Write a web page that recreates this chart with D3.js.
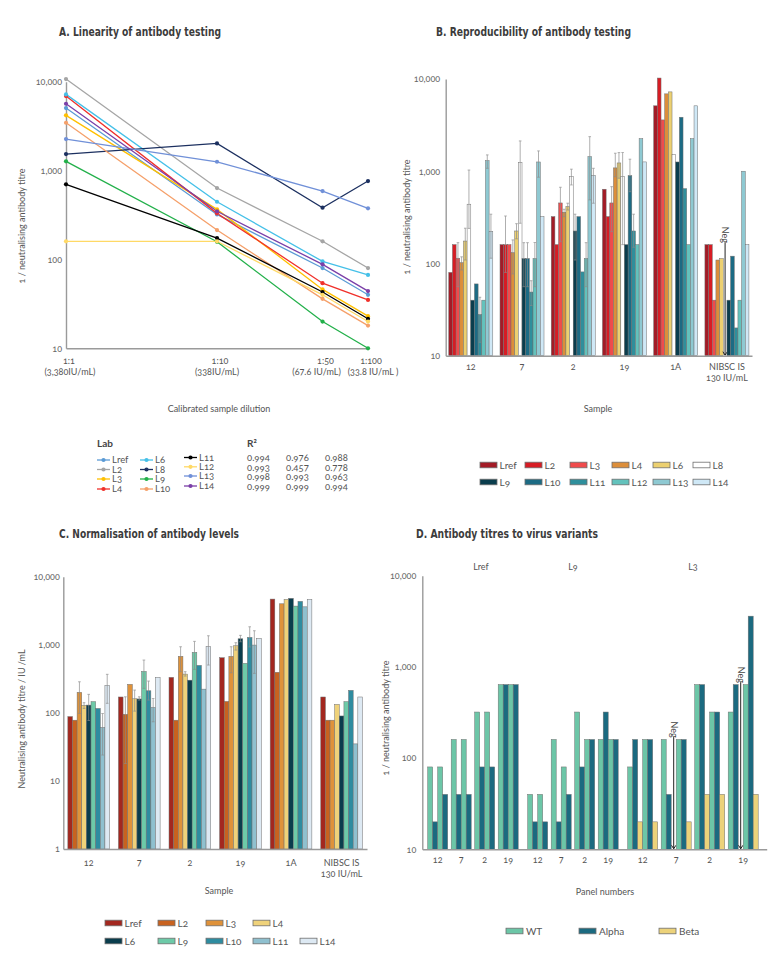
<!DOCTYPE html>
<html><head><meta charset="utf-8">
<script src="https://cdn.jsdelivr.net/npm/d3@7"></script>
<style>
body{margin:0;background:#fff;}
svg{font-family:Lato,"Open Sans",sans-serif;font-variant-numeric:oldstyle-nums;}
.title{font-family:"Liberation Sans Narrow","DejaVu Sans Condensed",sans-serif;font-weight:bold;font-size:12.5px;fill:#3c3c3c;font-variant-numeric:normal;}
.tick text{fill:#666;font-size:9px;}
.lbl{fill:#555;font-size:9px;}
.leg{fill:#555;font-size:10px;}
.legA{fill:#555;font-size:9.5px;}
</style></head><body>
<svg id="c" width="783" height="957"></svg>
<script>
// ---------- Panel A data ----------
const labsA = ["Lref","L2","L3","L4","L6","L8","L9","L10","L11","L12","L13","L14"];
const colorsA = ["#5b9bd5","#a5a5a5","#ffc000","#f0302a","#45c0e8","#1c3060","#22b04a","#f5a06a","#000000","#ffd966","#7090d8","#7b3fa8"];
const dilutions = [1,10,50,100];
const dilutionRatio = ["1:1","1:10","1:50","1:100"];
const dilutionIU = ["(3,380IU/mL)","(338IU/mL)","(67.6 IU/mL)","(33.8 IU/mL )"];
const A_Lref = [5050, 321, 80, 40];
const A_L2   = [10700, 636, 160, 80];
const A_L3   = [4180, 366, 46, 23];
const A_L4   = [6890, 330, 54, 35];
const A_L6   = [7200, 446, 95, 67];
const A_L8   = [1535, 2020, 382, 762];
const A_L9   = [1270, 158, 20, 10];
const A_L10  = [3450, 214, 36, 18];
const A_L11  = [700, 174, 43, 21.5];
const A_L12  = [160, 160, 40, 20];
const A_L13  = [2260, 1256, 588, 376];
const A_L14  = [5650, 348, 88, 44];
const seriesA = [A_Lref,A_L2,A_L3,A_L4,A_L6,A_L8,A_L9,A_L10,A_L11,A_L12,A_L13,A_L14];
const rSquared = [0.994,0.993,0.998,0.999,0.976,0.457,0.993,0.999,0.988,0.778,0.963,0.994];
const logTicks = [10,100,1000,10000];

// ---------- Panel B data ----------
const samples = ["12","7","2","19","1A","NIBSC"];
const sampleLabels = [["12"],["7"],["2"],["19"],["1A"],["NIBSC IS","130 IU/mL"]];
const labsB = ["Lref","L2","L3","L4","L6","L8","L9","L10","L11","L12","L13","L14"];
const colorsB = ["#a31b26","#d71c24","#f04b4c","#dc8e3a","#ecd070","#ffffff","#0a3d4d","#1c6b84","#2f8f9c","#63c2bc","#8ec9d2","#cfe8f6"];
const B_Lref = [80, 160, 322, 638, 5120, 160];
const B_L2   = [160, 160, 160, 322, 10240, 160];
const B_L3   = [114, 160, 453, 453, 3600, 40];
const B_L4   = [102, 131, 359, 1087, 6900, 109];
const B_L6   = [175, 225, 414, 1230, 7250, 113];
const B_L8   = [439, 1250, 881, 873, 1510, "Neg"];
const B_L9   = [40, 113, 225, 160, 1260, 40];
const B_L10  = [60, 113, 322, 895, 3850, 120];
const B_L11  = [28, 49, 81, 225, 647, 20];
const B_L12  = [40, 113, 113, 160, 160, 40];
const B_L13  = [1303, 1260, 1440, 2255, 2255, 1000];
const B_L14  = [223, 322, 903, 1262, 5120, 160];
const seriesB = [B_Lref,B_L2,B_L3,B_L4,B_L6,B_L8,B_L9,B_L10,B_L11,B_L12,B_L13,B_L14];
const BErr_L2  = [null,[80,327],null,null,null,null];
const BErr_L3  = [[56,168],null,[172,670],[221,680],null,null];
const BErr_L4  = [[85,118],[77,180],[322,387],[873,1567],null,null];
const BErr_L6  = [[109,241],[185,270],[380,450],[840,1592],null,null];
const BErr_L8  = [[240,1030],[273,2130],[710,1052],[160,1600],null,null];
const BErr_L9  = [null,[56,168],[109,342],null,null,null];
const BErr_L10 = [null,[56,168],null,[600,1350],null,null];
const BErr_L11 = [[14,43],[35,65],null,[150,342],null,null];
const BErr_L12 = [null,[56,169],[56,168],null,null,null];
const BErr_L13 = [[1076,1503],[861,1660],[489,2370],null,null,null];
const BErr_L14 = [[114,342],null,[450,1076],null,null,null];
const errB = [null,BErr_L2,BErr_L3,BErr_L4,BErr_L6,BErr_L8,BErr_L9,BErr_L10,BErr_L11,BErr_L12,BErr_L13,BErr_L14];
const negTopB = [170];

// ---------- Panel C data ----------
const labsC = ["Lref","L2","L3","L4","L6","L9","L10","L11","L14"];
const colorsC = ["#a3271f","#c8621f","#df923a","#efd27a","#0a3d4d","#6dcaa8","#2e8ca0","#8fc0cf","#dde9f3"];
const C_Lref = [88, 171, 332, 645, 4690, 171];
const C_L2   = [78, 95, 78, 147, 394, 78];
const C_L3   = [200, 262, 676, 676, 4000, 78];
const C_L4   = [129, 161, 371, 967, 4630, 133];
const C_L6   = [130, 160, 302, 1225, 4800, 90];
const C_L9   = [146, 406, 773, 533, 3700, 146];
const C_L10  = [116, 211, 498, 1283, 4340, 214];
const C_L11  = [61, 120, 223, 990, 3610, 35];
const C_L14  = [253, 332, 947, 1240, 4630, 171];
const seriesC = [C_Lref,C_L2,C_L3,C_L4,C_L6,C_L9,C_L10,C_L11,C_L14];
const CErr_L2  = [null,[18,172],null,null,null,null];
const CErr_L3  = [[98,286],null,[402,935],[388,935],null,null];
const CErr_L4  = [[116,141],[106,216],[347,402],[836,1072],null,null];
const CErr_L6  = [[77,187],[154,172],null,[1107,1374],null,null];
const CErr_L9  = [null,[229,596],[435,1122],null,null,null];
const CErr_L10 = [null,[154,293],null,[930,1837],null,null];
const CErr_L11 = [[24,98],[74,163],null,[380,1607],null,null];
const CErr_L14 = [[138,368],null,[504,1356],null,null,null];
const errC = [null,CErr_L2,CErr_L3,CErr_L4,CErr_L6,CErr_L9,CErr_L10,CErr_L11,CErr_L14];
const logTicksC = [1,10,100,1000,10000];

// ---------- Panel D data ----------
const labsD = ["Lref","L9","L3"];
const panelNumbers = ["12","7","2","19"];
const variants = ["WT","Alpha","Beta"];
const colorsD = ["#6cc6a7","#1b6a80","#ecd27a"];
const D_Lref_variants = ["WT","Alpha","WT","Alpha"];
const D_L9_variants   = ["WT","Alpha","WT","Alpha"];
const D_L3_variants   = ["WT","Alpha","Beta","WT","Alpha","Beta"];
const D_Lref = [[80,20,80,40],[160,40,160,40],[320,80,320,80],[640,640,640,640]];
const D_L9   = [[40,20,40,20],[160,20,80,40],[320,80,160,160],[160,320,160,160]];
const D_L3   = [[80,160,20,160,160,20],[160,40,"Neg",160,160,20],[640,640,40,320,320,40],[320,640,"Neg",640,3600,40]];
const seriesD = [D_Lref, D_L9, D_L3];
const variantsD = [D_Lref_variants, D_L9_variants, D_L3_variants];
const negTopD = [170, 680];

// ---------- drawing ----------
const svg = d3.select("#c");
const axisColor = "#9a9a9a";

function styleAxis(g){
  g.select(".domain").attr("stroke", axisColor).attr("stroke-width", 1.4);
  g.selectAll(".tick line").remove();
}
function leftAxis(scale, x, ticks, pad){
  const g = svg.append("g").attr("transform", `translate(${x},0)`)
    .call(d3.axisLeft(scale).tickValues(ticks).tickFormat(d3.format(",")).tickSize(0).tickSizeOuter(0).tickPadding(pad));
  styleAxis(g);
  g.selectAll(".tick text").attr("font-family", "Lato,'Open Sans',sans-serif").attr("font-size", 9);
  return g;
}
function bottomAxisLine(scale, y){
  const g = svg.append("g").attr("transform", `translate(0,${y})`)
    .call(d3.axisBottom(scale).tickValues([]).tickSizeOuter(0));
  styleAxis(g);
  return g;
}
function title(text, x, y, len){
  svg.append("text").attr("class","title").attr("x",x).attr("y",y)
    .attr("textLength",len).attr("lengthAdjust","spacingAndGlyphs").text(text);
}
function vlabel(text, x, y){
  svg.append("text").attr("class","lbl").attr("transform",`translate(${x},${y}) rotate(-90)`)
    .attr("text-anchor","middle").text(text);
}
function negMarker(x, yTop, yBottom){
  svg.append("line").attr("x1",x).attr("x2",x).attr("y1",yTop).attr("y2",yBottom-0.5)
    .attr("stroke","#222").attr("stroke-width",1);
  svg.append("path").attr("d",`M${x-2.2},${yBottom-4}L${x},${yBottom-0.5}L${x+2.2},${yBottom-4}`)
    .attr("fill","none").attr("stroke","#222").attr("stroke-width",1);
  svg.append("text").attr("transform",`translate(${x-2.8},${yTop-15.5}) rotate(90)`)
    .attr("font-size",9).attr("fill","#444").text("Neg");
}
function errorBars(scale, x, lo, hi){
  const g = svg.append("g").attr("stroke","#8a8a8a").attr("stroke-width",0.8).attr("opacity",0.85);
  g.append("line").attr("x1",x).attr("x2",x).attr("y1",scale(lo)).attr("y2",scale(hi));
  g.append("line").attr("x1",x-1.3).attr("x2",x+1.3).attr("y1",scale(lo)).attr("y2",scale(lo));
  g.append("line").attr("x1",x-1.3).attr("x2",x+1.3).attr("y1",scale(hi)).attr("y2",scale(hi));
}

// ===== Panel A =====
title("A. Linearity of antibody testing", 59, 36, 162);
const xA = d3.scaleLog().domain([1,100]).range([66,368]);
const yA = d3.scaleLog().domain([10,10000]).range([348.3,81.7]);
leftAxis(yA, 66, logTicks, 4);
bottomAxisLine(xA, 348.3);
const lineA = d3.line().x((d,i)=>xA(dilutions[i])).y(d=>yA(d));
seriesA.forEach((s,i)=>{
  svg.append("path").datum(s).attr("d",lineA).attr("fill","none").attr("stroke",colorsA[i]).attr("stroke-width",1.3);
});
seriesA.forEach((s,i)=>{
  svg.append("g").selectAll("circle").data(s).join("circle")
    .attr("cx",(d,k)=>xA(dilutions[k])).attr("cy",d=>yA(d)).attr("r",2.1).attr("fill",colorsA[i]);
});
const offA = [4, 0, -6, 5];
dilutions.forEach((d,i)=>{
  const t = svg.append("text").attr("class","lbl").attr("text-anchor","middle").attr("fill","#666");
  t.append("tspan").attr("x",xA(d)+3).attr("y",364).text(dilutionRatio[i]);
  t.append("tspan").attr("x",xA(d)+offA[i]).attr("y",375).text(dilutionIU[i]);
});
vlabel("1 / neutralising antibody titre", 25, 226);
svg.append("text").attr("class","lbl").attr("x",219).attr("y",412).attr("text-anchor","middle").text("Calibrated sample dilution");

// legend A
svg.append("text").attr("x",97).attr("y",447).attr("font-size",10).attr("font-weight","bold").attr("fill","#444").text("Lab");
svg.append("text").attr("x",247).attr("y",447).attr("font-size",10).attr("font-weight","bold").attr("fill","#444").text("R²");
const legColX = [97,140,184];
const legRowY = [[460,469.5,479,489],[460,469.5,479,489],[457.5,466.8,476,486]];
labsA.forEach((l,i)=>{
  const c = Math.floor(i/4), r = i%4;
  const x = legColX[c], y = legRowY[c][r];
  svg.append("line").attr("x1",x).attr("x2",x+13).attr("y1",y).attr("y2",y).attr("stroke",colorsA[i]).attr("stroke-width",1.3);
  svg.append("circle").attr("cx",x+6.5).attr("cy",y).attr("r",2.1).attr("fill",colorsA[i]);
  svg.append("text").attr("class","legA").attr("x",x+15).attr("y",y+3.3).text(l);
  svg.append("text").attr("class","legA").attr("x",247+c*39).attr("y",legRowY[2][r]+3.8).text(d3.format(".3f")(rSquared[i]));
});

// ===== Panel B =====
title("B. Reproducibility of antibody testing", 436, 36, 195);
const xB = d3.scaleBand().domain(samples).range([445.7,752]).paddingInner(0.141).paddingOuter(0.06);
const innerB = d3.scaleBand().domain(labsB).range([0,xB.bandwidth()]);
const yB = d3.scaleLog().domain([10,10000]).range([355.7,79]);
let negB = 0;
samples.forEach((s,si)=>{
  labsB.forEach((l,li)=>{
    const v = seriesB[li][si];
    const x = xB(s)+innerB(l);
    if (v === "Neg") { negMarker(x+innerB.bandwidth()/2, yB(negTopB[negB++]), yB(10)); return; }
    svg.append("rect").attr("x",x).attr("y",yB(v)).attr("width",innerB.bandwidth()).attr("height",yB(10)-yB(v))
      .attr("fill",colorsB[li]).attr("stroke","#6f6f6f").attr("stroke-width",0.5);
  });
});
samples.forEach((s,si)=>{
  labsB.forEach((l,li)=>{
    const e = errB[li] && errB[li][si];
    if (e) errorBars(yB, xB(s)+innerB(l)+innerB.bandwidth()/2, e[0], e[1]);
  });
});
leftAxis(yB, 445.7, logTicks, 5.5);
bottomAxisLine(xB, 355.7);
samples.forEach((s,si)=>{
  const t = svg.append("text").attr("class","lbl").attr("text-anchor","middle").attr("fill","#666");
  sampleLabels[si].forEach((line,k)=>t.append("tspan").attr("x",xB(s)+xB.bandwidth()/2).attr("y",370+k*10.5).text(line));
});
vlabel("1 / neutralising antibody titre", 410, 217);
svg.append("text").attr("class","lbl").attr("x",598).attr("y",412).attr("text-anchor","middle").text("Sample");
const legBX = [480,525,570,612,653,693];
labsB.forEach((l,i)=>{
  const c = i%6, r = Math.floor(i/6);
  const x = legBX[c], y = 465 + r*17;
  svg.append("rect").attr("x",x).attr("y",y-2.8).attr("width",17).attr("height",5.6)
    .attr("fill",colorsB[i]).attr("stroke","#6f6f6f").attr("stroke-width",0.8);
  svg.append("text").attr("class","leg").attr("x",x+19.5).attr("y",y+3.6).text(l);
});

// ===== Panel C =====
title("C. Normalisation of antibody levels", 59, 538, 180);
const xC = d3.scaleBand().domain(samples).range([63.3,367]).paddingInner(0.176).paddingOuter(0.09);
const innerC = d3.scaleBand().domain(labsC).range([0,xC.bandwidth()]);
const yC = d3.scaleLog().domain([1,10000]).range([849,576.7]);
samples.forEach((s,si)=>{
  labsC.forEach((l,li)=>{
    const v = seriesC[li][si];
    svg.append("rect").attr("x",xC(s)+innerC(l)).attr("y",yC(v)).attr("width",innerC.bandwidth()).attr("height",yC(1)-yC(v))
      .attr("fill",colorsC[li]).attr("stroke","#6f6f6f").attr("stroke-width",0.5);
  });
});
samples.forEach((s,si)=>{
  labsC.forEach((l,li)=>{
    const e = errC[li] && errC[li][si];
    if (e) errorBars(yC, xC(s)+innerC(l)+innerC.bandwidth()/2, e[0], e[1]);
  });
});
leftAxis(yC, 63.3, logTicksC, 3.5);
bottomAxisLine(xC, 849);
samples.forEach((s,si)=>{
  const t = svg.append("text").attr("class","lbl").attr("text-anchor","middle").attr("fill","#666");
  sampleLabels[si].forEach((line,k)=>t.append("tspan").attr("x",xC(s)+xC.bandwidth()/2).attr("y",866+k*10.5).text(line));
});
vlabel("Neutralising antibody titre / IU /mL", 25, 719);
svg.append("text").attr("class","lbl").attr("x",219).attr("y",894).attr("text-anchor","middle").text("Sample");
const legCX = [105,158,206,253,300];
labsC.forEach((l,i)=>{
  const r = i<4 ? 0 : 1, c = i<4 ? i : i-4;
  const x = legCX[c], y = 923 + r*18;
  svg.append("rect").attr("x",x).attr("y",y-2.8).attr("width",17).attr("height",5.6)
    .attr("fill",colorsC[i]).attr("stroke","#6f6f6f").attr("stroke-width",0.8);
  svg.append("text").attr("class","leg").attr("x",x+19.5).attr("y",y+3.6).text(l);
});

// ===== Panel D =====
title("D. Antibody titres to virus variants", 416, 538, 182);
const startPad = 1.08, subGap = 0.7, labGap = 1.9, endPad = 1.7;
const barsD = []; const subCenters = []; const labCenters = [];
let u = startPad;
seriesD.forEach((lab,li)=>{
  const labStart = u;
  lab.forEach((vals,pi)=>{
    const subStart = u;
    vals.forEach((v,k)=>{ barsD.push({lab:li, pos:u, v, variant:variantsD[li][k]}); u += 1; });
    subCenters.push({pos:(subStart+u)/2, label:panelNumbers[pi]});
    if (pi < lab.length-1) u += subGap;
  });
  labCenters.push({pos:(labStart+u)/2, label:labsD[li]});
  if (li < seriesD.length-1) u += labGap;
});
u += endPad;
const xD = d3.scaleLinear().domain([0,u]).range([422.3,766.7]);
const yD = d3.scaleLog().domain([10,10000]).range([849.3,575.7]);
const colorD = d3.scaleOrdinal().domain(variants).range(colorsD);
let negD = 0;
barsD.forEach(b=>{
  const w = xD(1)-xD(0);
  if (b.v === "Neg") { negMarker(xD(b.pos)+w/2, yD(negTopD[negD++]), yD(10)); return; }
  svg.append("rect").attr("x",xD(b.pos)).attr("y",yD(b.v)).attr("width",w).attr("height",yD(10)-yD(b.v))
    .attr("fill",colorD(b.variant)).attr("stroke","#6f6f6f").attr("stroke-width",0.5);
});
leftAxis(yD, 422.3, logTicks, 6);
bottomAxisLine(xD, 849.3);
subCenters.forEach(s=>{
  svg.append("text").attr("class","lbl").attr("fill","#666").attr("text-anchor","middle").attr("x",xD(s.pos)).attr("y",863).text(s.label);
});
labCenters.forEach((s,i)=>{
  svg.append("text").attr("class","lbl").attr("font-size",10).attr("text-anchor","middle").attr("x",xD(s.pos)+(i===0?8:0)).attr("y",570).text(s.label);
});
vlabel("1 / neutralising antibody titre", 389, 718);
svg.append("text").attr("class","lbl").attr("x",605).attr("y",895).attr("text-anchor","middle").text("Panel numbers");
const legDX = [506,579,659];
variants.forEach((v,i)=>{
  svg.append("rect").attr("x",legDX[i]).attr("y",928.2).attr("width",17).attr("height",5.6)
    .attr("fill",colorsD[i]).attr("stroke","#6f6f6f").attr("stroke-width",0.8);
  svg.append("text").attr("class","leg").attr("x",legDX[i]+20).attr("y",934.6).text(v);
});
</script></body></html>
